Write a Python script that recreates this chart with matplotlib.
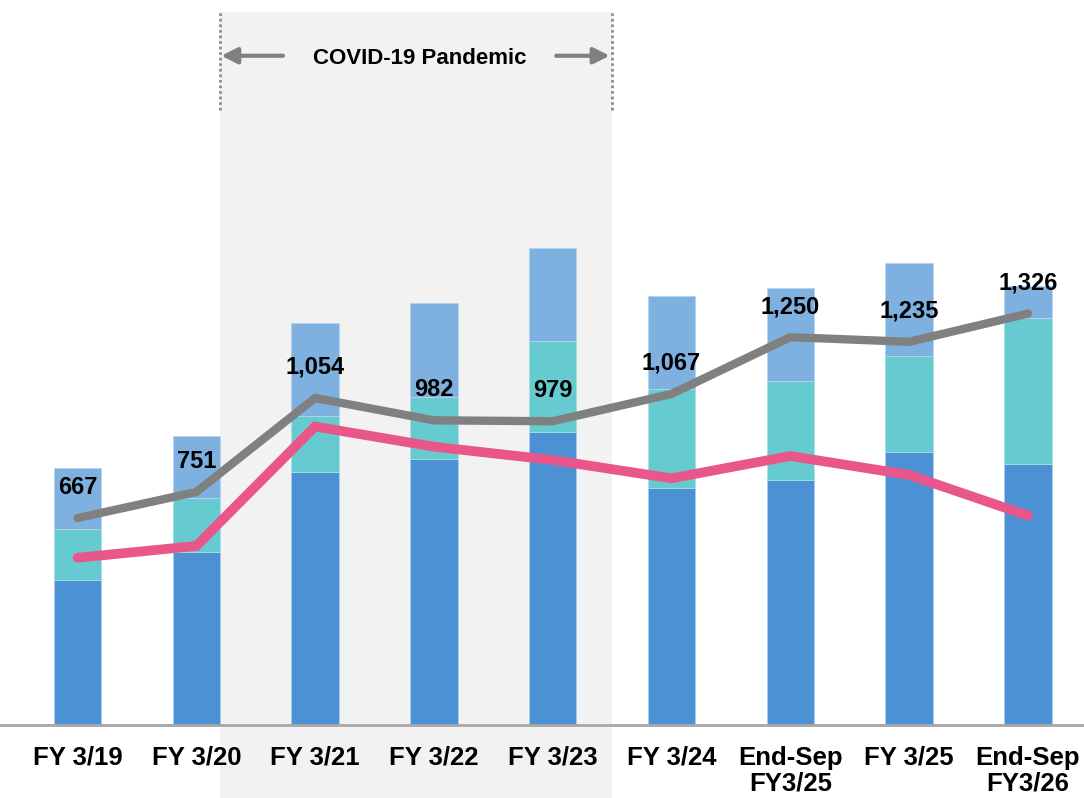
import numpy as np
import matplotlib
matplotlib.use("Agg")
import matplotlib.pyplot as plt
from matplotlib.patches import Rectangle

plt.rcParams['font.family'] = ['Liberation Sans', 'DejaVu Sans']

categories = ["FY 3/19", "FY 3/20", "FY 3/21", "FY 3/22", "FY 3/23",
              "FY 3/24", "End-Sep\nFY3/25", "FY 3/25", "End-Sep\nFY3/26"]
dark = [467, 559, 817, 857, 945, 765, 790, 880, 842]
teal = [165, 173, 179, 201, 292, 318, 320, 310, 469]
light = [197, 200, 301, 302, 301, 300, 299, 299, 104]
gray_line = [667, 751, 1054, 982, 979, 1067, 1250, 1235, 1326]
pink_line = [539, 577, 962, 897, 854, 795, 867, 806, 675]
value_labels = ["667", "751", "1,054", "982", "979", "1,067", "1,250", "1,235", "1,326"]

c_dark = "#4b91d3"
c_teal = "#66cbd0"
c_light = "#7fb1e0"
c_gray = "#808080"
c_pink = "#e9578a"

fig = plt.figure(figsize=(10.84, 7.98), dpi=100)
ax = fig.add_axes([0, 1 - 725 / 798, 1, (725 - 12) / 798])

x = np.arange(len(categories))
ymax = 2298
ax.set_xlim(-0.652, 8.472)
ax.set_ylim(0, ymax)

# covid shading
span_l, span_r = 1.2, 4.5
ax.add_patch(Rectangle((span_l, -300), span_r - span_l, ymax + 300,
                       facecolor="#f2f2f2", edgecolor="none",
                       zorder=0, clip_on=False))
top_dot = 1983
ax.vlines([span_l, span_r], top_dot, ymax, colors="#8c8c8c",
          linestyles=(0, (1, 1)), lw=2, zorder=1)

arrow_y = 2157
ax.annotate("", xy=(span_l + 0.01, arrow_y), xytext=(1.73, arrow_y),
            arrowprops=dict(arrowstyle="-|>", color=c_gray, lw=3,
                            mutation_scale=24, shrinkA=0, shrinkB=0))
ax.annotate("", xy=(span_r - 0.02, arrow_y), xytext=(4.03, arrow_y),
            arrowprops=dict(arrowstyle="-|>", color=c_gray, lw=3,
                            mutation_scale=24, shrinkA=0, shrinkB=0))
ax.text((1.73 + 4.03) / 2, arrow_y - 10, "COVID-19 Pandemic", ha="center",
        va="center", fontsize=16, fontweight="bold")

w = 0.4
bottom2 = np.array(dark) + np.array(teal)
ax.bar(x, dark, w, color=c_dark, edgecolor="#a9cdee", lw=0.6, zorder=2)
ax.bar(x, teal, w, bottom=dark, color=c_teal, edgecolor="#a9dfe3", lw=0.6, zorder=2)
ax.bar(x, light, w, bottom=bottom2, color=c_light, edgecolor="#b5d3ef", lw=0.6, zorder=2)

ax.plot(x, gray_line, color=c_gray, lw=6, solid_capstyle="round",
        solid_joinstyle="miter", zorder=3)
ax.plot(x, pink_line, color=c_pink, lw=7, solid_capstyle="round",
        solid_joinstyle="miter", zorder=3)

for xi, v, lab in zip(x, gray_line, value_labels):
    ax.annotate(lab, (xi, v), xytext=(0, 22), textcoords="offset points",
                ha="center", va="center", fontsize=17, fontweight="bold",
                zorder=4)

ax.set_xticks(x)
ax.set_xticklabels(categories, fontsize=18.5, fontweight="bold", linespacing=1.1)
ax.tick_params(axis="x", length=0, pad=15)
ax.set_yticks([])
for s in ["top", "right", "left"]:
    ax.spines[s].set_visible(False)
ax.spines["bottom"].set_color("#a6a6a6")
ax.spines["bottom"].set_linewidth(2)
ax.patch.set_visible(False)

fig.savefig("out.png", dpi=100)
